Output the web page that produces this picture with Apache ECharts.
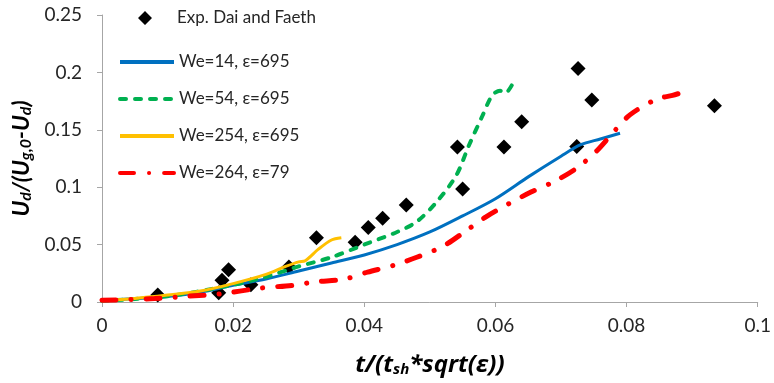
<!DOCTYPE html>
<html>
<head>
<meta charset="utf-8">
<script src="https://cdn.jsdelivr.net/npm/echarts@6/dist/echarts.min.js"></script>
<style>
html,body{margin:0;padding:0;background:#fff;}
#c{width:774px;height:383px;}
</style>
</head>
<body>
<div id="c"></div>
<script>
// Experimental data (Dai and Faeth)
var expX = [0.0085, 0.0178, 0.0183, 0.0193, 0.0227, 0.0285, 0.0327, 0.0386, 0.0406, 0.0428, 0.0464, 0.0542, 0.0550, 0.0613, 0.0640, 0.0724, 0.0726, 0.0747, 0.0934];
var expY = [0.0062, 0.0080, 0.0190, 0.0280, 0.0150, 0.0305, 0.0560, 0.0520, 0.0650, 0.0730, 0.0845, 0.1350, 0.0985, 0.1350, 0.1570, 0.1355, 0.2035, 0.1760, 0.1710];

// We=14, eps=695
var we14X = [0, 0.005, 0.010, 0.015, 0.020, 0.025, 0.030, 0.035, 0.040, 0.045, 0.050, 0.055, 0.060, 0.065, 0.070, 0.073, 0.076, 0.079];
var we14Y = [0.001, 0.003, 0.0048, 0.0085, 0.0145, 0.020, 0.027, 0.034, 0.041, 0.050, 0.061, 0.075, 0.090, 0.109, 0.127, 0.137, 0.142, 0.147];

// We=54, eps=695
var we54X = [0, 0.010, 0.020, 0.025, 0.030, 0.035, 0.040, 0.045, 0.048, 0.051, 0.054, 0.056, 0.058, 0.0595, 0.0607, 0.0615, 0.0627];
var we54Y = [0.001, 0.005, 0.015, 0.022, 0.031, 0.039, 0.050, 0.061, 0.070, 0.087, 0.110, 0.137, 0.162, 0.180, 0.184, 0.182, 0.191];

// We=254, eps=695
var we254X = [0, 0.005, 0.010, 0.015, 0.020, 0.025, 0.028, 0.030, 0.031, 0.033, 0.035, 0.0365];
var we254Y = [0.001, 0.003, 0.006, 0.0095, 0.016, 0.024, 0.031, 0.035, 0.036, 0.046, 0.054, 0.056];

// We=264, eps=79
var we264X = [0, 0.008, 0.013, 0.018, 0.024, 0.029, 0.0325, 0.037, 0.0405, 0.0445, 0.048, 0.052, 0.0555, 0.0585, 0.062, 0.0655, 0.069, 0.0725, 0.0755, 0.078, 0.0805, 0.0845, 0.087, 0.0893];
var we264Y = [0.0015, 0.003, 0.005, 0.007, 0.012, 0.0145, 0.0175, 0.020, 0.026, 0.032, 0.039, 0.0485, 0.062, 0.074, 0.0855, 0.096, 0.105, 0.117, 0.132, 0.148, 0.163, 0.1765, 0.180, 0.184];

var seriesNames = ['Exp. Dai and Faeth', 'We=14, \u03b5=695', 'We=54, \u03b5=695', 'We=254, \u03b5=695', 'We=264, \u03b5=79'];
var xTicks = {min: 0, max: 0.1, interval: 0.02};
var yTicks = {min: 0, max: 0.25, interval: 0.05};

function zip(xs, ys) { return xs.map(function (x, i) { return [x, ys[i]]; }); }

var FONT = 'Lato, "Open Sans", sans-serif';
var TFONT = '"Open Sans", Lato, sans-serif';
var axisColor = '#a6a6a6';
// legend diamond centred inside a wide icon box
var diamondIcon = 'path://M0,7L0.01,7L0,7.01ZM20,7L27,0L34,7L27,14ZM53.99,7L54,7L53.99,7.01Z';

var chart = echarts.init(document.getElementById('c'), null, {renderer: 'canvas'});
chart.setOption({
  animation: false,
  backgroundColor: '#fff',
  grid: {left: 102, right: 12, top: 15, bottom: 81, containLabel: false},
  legend: [{
    data: [{name: seriesNames[0], icon: diamondIcon}],
    orient: 'vertical', left: 118, top: 8, padding: 0,
    itemWidth: 54, itemHeight: 14,
    textStyle: {fontFamily: FONT, fontSize: 17, color: '#262626', lineHeight: 20}
  }, {
    data: seriesNames.slice(1),
    orient: 'vertical', left: 118, top: 52, padding: 0,
    itemWidth: 54, itemHeight: 14, itemGap: 17,
    itemStyle: {opacity: 0},
    lineStyle: {width: 4},
    textStyle: {fontFamily: FONT, fontSize: 17, color: '#262626', lineHeight: 20}
  }],
  xAxis: {
    type: 'value', min: xTicks.min, max: xTicks.max, interval: xTicks.interval,
    axisLine: {lineStyle: {color: axisColor, width: 1}},
    axisTick: {show: true, length: 5, lineStyle: {color: axisColor}},
    splitLine: {show: false},
    axisLabel: {fontFamily: FONT, fontSize: 19, color: '#262626', margin: 14},
    name: '{b|t/(t}{s|sh}{b|*sqrt(\u03b5))}',
    nameLocation: 'middle', nameGap: 47,
    nameTextStyle: {
      rich: {
        b: {fontFamily: TFONT, fontSize: 24, fontWeight: 'bold', fontStyle: 'italic', color: '#000', lineHeight: 28, verticalAlign: 'bottom'},
        s: {fontFamily: TFONT, fontSize: 15, fontWeight: 'bold', fontStyle: 'italic', color: '#000', lineHeight: 23, verticalAlign: 'bottom'}
      }
    }
  },
  yAxis: {
    type: 'value', min: yTicks.min, max: yTicks.max, interval: yTicks.interval,
    axisLine: {show: true, lineStyle: {color: axisColor, width: 1}},
    axisTick: {show: true, length: 5, lineStyle: {color: axisColor}},
    splitLine: {show: false},
    axisLabel: {fontFamily: FONT, fontSize: 19, color: '#262626', margin: 20},
    name: '{b|U}{s|d}{b|/(U}{s|g,0}{b|-U}{s|d}{b|)}',
    nameLocation: 'middle', nameGap: 64, nameRotate: 90,
    nameTextStyle: {
      rich: {
        b: {fontFamily: FONT, fontSize: 23, fontWeight: 'bold', fontStyle: 'italic', color: '#000', lineHeight: 27, verticalAlign: 'bottom'},
        s: {fontFamily: FONT, fontSize: 16, fontWeight: 'bold', fontStyle: 'italic', color: '#000', lineHeight: 23, verticalAlign: 'bottom'}
      }
    }
  },
  series: [{
    name: seriesNames[0], type: 'scatter', symbol: 'diamond', symbolSize: 15,
    itemStyle: {color: '#000', opacity: 1},
    data: zip(expX, expY)
  }, {
    name: seriesNames[1], type: 'line', smooth: 0.3, showSymbol: false, symbol: 'none',
    lineStyle: {color: '#0070C0', width: 3},
    itemStyle: {color: '#0070C0'},
    data: zip(we14X, we14Y)
  }, {
    name: seriesNames[2], type: 'line', smooth: 0.3, showSymbol: false, symbol: 'none',
    lineStyle: {color: '#00B050', width: 4, type: [6, 9], cap: 'round'},
    itemStyle: {color: '#00B050'},
    data: zip(we54X, we54Y)
  }, {
    name: seriesNames[3], type: 'line', smooth: 0.3, showSymbol: false, symbol: 'none',
    lineStyle: {color: '#FFC000', width: 3},
    itemStyle: {color: '#FFC000'},
    data: zip(we254X, we254Y)
  }, {
    name: seriesNames[4], type: 'line', smooth: 0.3, showSymbol: false, symbol: 'none',
    lineStyle: {color: '#FF0000', width: 5, type: [14, 15, 0.1, 15], cap: 'round'},
    itemStyle: {color: '#FF0000'},
    data: zip(we264X, we264Y)
  }]
});
</script>
</body>
</html>
